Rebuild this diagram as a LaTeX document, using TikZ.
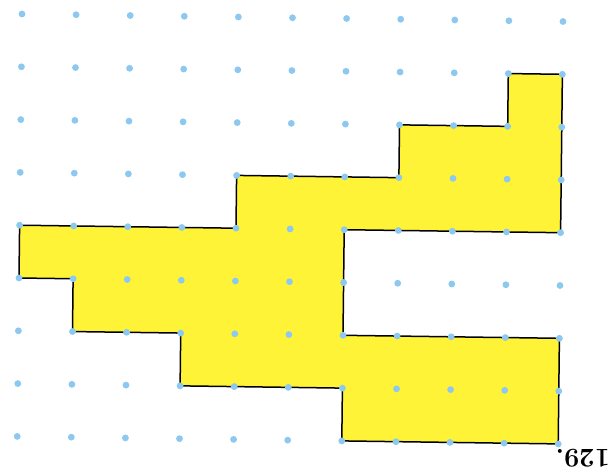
\documentclass[tikz,border=0pt]{standalone}
\begin{document}
\begin{tikzpicture}
\definecolor{fillyellow}{RGB}{255,243,55}
\definecolor{dotblue}{RGB}{140,200,240}
\tikzset{
  region/.style={fill=fillyellow, draw=black, line width=1.5pt, line join=miter},
  griddot/.style={fill=dotblue, draw=none},
  numlabel/.style={font=\fontsize{27}{30}\selectfont\bfseries, inner sep=0pt, rotate=180, anchor=base west}
}
\useasboundingbox (0,0) rectangle (611pt,-472pt);
\fill[white] (0,0) rectangle (611pt,-472pt);
\begin{scope}[shift={(22pt,-14pt)}, x={(54.1pt,-0.75pt)}, y={(-0.6pt,-52.8pt)}]
  \draw[region] (0,4) -- (4,4) -- (4,3) -- (7,3) -- (7,2) -- (9,2) -- (9,1) -- (10,1)
    -- (10,4) -- (6,4) -- (6,6) -- (10,6) -- (10,8) -- (6,8) -- (6,7) -- (3,7)
    -- (3,6) -- (1,6) -- (1,5) -- (0,5) -- cycle;
  \foreach \i in {0,...,10}
    \foreach \j in {0,...,8}
      \fill[griddot] (\i,\j) circle[radius=3.4pt];
\end{scope}
\node[numlabel] (lbl) at (610pt,-449pt) {129.};
\end{tikzpicture}
\end{document}
